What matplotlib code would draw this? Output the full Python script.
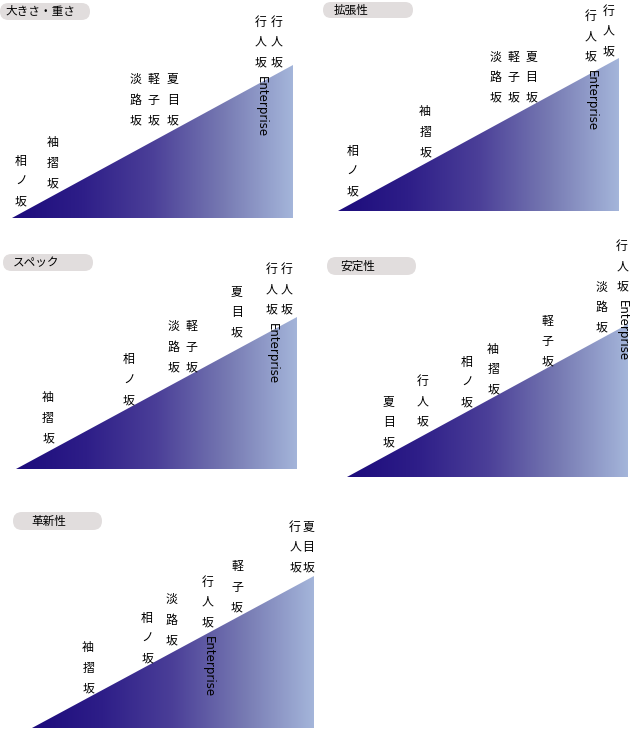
import matplotlib
matplotlib.use('Agg')
import matplotlib.pyplot as plt
import numpy as np
from matplotlib.patches import FancyBboxPatch, Polygon
from matplotlib.colors import LinearSegmentedColormap

plt.rcParams['font.family'] = ['Noto Sans CJK JP', 'DejaVu Sans']

# panel titles
titles = ['大きさ・重さ', '拡張性', 'スペック', '安定性', '革新性']

# label names, score (position along base, 0-100) and level (height, 0-100) per panel
size_names = ['相ノ坂', '袖摺坂', '淡路坂', '軽子坂', '夏目坂', '行人坂 Enterprise', '行人坂']
size_score = [3.2, 14.6, 43.8, 50.2, 57.3, 88.6, 94.3]
size_level = [3.9, 15.7, 56.9, 56.9, 56.9, 94.8, 94.8]

ext_names = ['相ノ坂', '袖摺坂', '淡路坂', '軽子坂', '夏目坂', '行人坂 Enterprise', '行人坂']
ext_score = [5.2, 31.0, 55.9, 62.3, 68.7, 90.0, 96.4]
ext_level = [5.9, 31.4, 67.3, 67.3, 67.3, 94.1, 97.4]

spec_names = ['袖摺坂', '相ノ坂', '淡路坂', '軽子坂', '夏目坂', '行人坂 Enterprise', '行人坂']
spec_score = [11.4, 40.2, 56.2, 62.3, 78.6, 91.1, 96.4]
spec_level = [13.2, 38.2, 59.9, 59.9, 82.9, 98.0, 98.0]

stab_names = ['夏目坂', '行人坂', '相ノ坂', '袖摺坂', '軽子坂', '淡路坂', '行人坂 Enterprise']
stab_score = [14.9, 27.0, 42.7, 52.0, 71.2, 90.7, 97.9]
stab_level = [15.7, 29.4, 41.8, 50.3, 68.6, 90.8, 117.6]

inno_names = ['袖摺坂', '相ノ坂', '淡路坂', '行人坂 Enterprise', '軽子坂', '行人坂', '夏目坂']
inno_score = [19.9, 40.8, 49.6, 62.4, 72.7, 93.3, 97.9]
inno_level = [19.1, 38.8, 50.7, 62.5, 72.4, 98.7, 98.7]

panels = [
    (size_names, size_score, size_level),
    (ext_names, ext_score, ext_level),
    (spec_names, spec_score, spec_level),
    (stab_names, stab_score, stab_level),
    (inno_names, inno_score, inno_level),
]

W, H = 630, 729
# triangle boxes in pixels: left, right, top, base
boxes = [(12, 293, 65, 218), (338, 619, 58, 211), (16, 297, 317, 469),
         (347, 628, 324, 477), (32, 314, 576, 728)]
# title pills: x, y, w, h, text pad
pills = [(0, 3, 90, 17, 5), (323, 2, 90, 16, 11), (3, 254, 90, 17, 10),
         (327, 257, 89, 18, 13), (13, 512, 89, 18, 18)]

cmap = LinearSegmentedColormap.from_list('slope', [
    (0.0, '#1c0b7c'), (0.25, '#2e1e88'), (0.5, '#4b3f98'),
    (0.75, '#7679b2'), (1.0, '#a4b5da')])

fig = plt.figure(figsize=(W / 100, H / 100), dpi=100)
bg = fig.add_axes([0, 0, 1, 1])
bg.set_xlim(0, W)
bg.set_ylim(H, 0)
bg.axis('off')

for (px, py, pw, ph, pad), t in zip(pills, titles):
    bg.add_patch(FancyBboxPatch((px, py), pw, ph,
                                boxstyle=f"round,pad=0,rounding_size={ph/2}",
                                fc='#e1dddd', ec='none'))
    bg.text(px + pad, py + ph / 2, t, fontsize=8.4, va='center', ha='left', color='#000000')

step = 20.5
grad = np.linspace(0, 1, 256).reshape(1, -1)

for (names, score, level), (x0, x1, top, base) in zip(panels, boxes):
    ax = fig.add_axes([x0 / W, (H - base) / H, (x1 - x0) / W, (base - top) / H])
    ax.set_xlim(0, 100)
    ax.set_ylim(0, 100)
    ax.axis('off')
    im = ax.imshow(grad, cmap=cmap, extent=[0, 100, 0, 100], aspect='auto')
    tri = Polygon([[0, 0], [100, 0], [100, 100]], closed=True, transform=ax.transData)
    im.set_clip_path(tri)

    for name, s, lv in zip(names, score, level):
        parts = name.split(' ')
        chars = list(parts[0])
        n = len(chars)
        for i, ch in enumerate(chars):
            ax.annotate(ch, xy=(s, lv), xytext=(0, 10 + (n - 1 - i) * step),
                        textcoords='offset pixels', ha='center', va='center',
                        fontsize=8.6, color='#000000', annotation_clip=False)
        if len(parts) > 1:
            ax.annotate(parts[1], xy=(s, lv), xytext=(0, -3),
                        textcoords='offset pixels', ha='center', va='top',
                        rotation=270, fontsize=8.5, color='#000000',
                        family='DejaVu Sans', annotation_clip=False)

fig.savefig('out.png', dpi=100)
